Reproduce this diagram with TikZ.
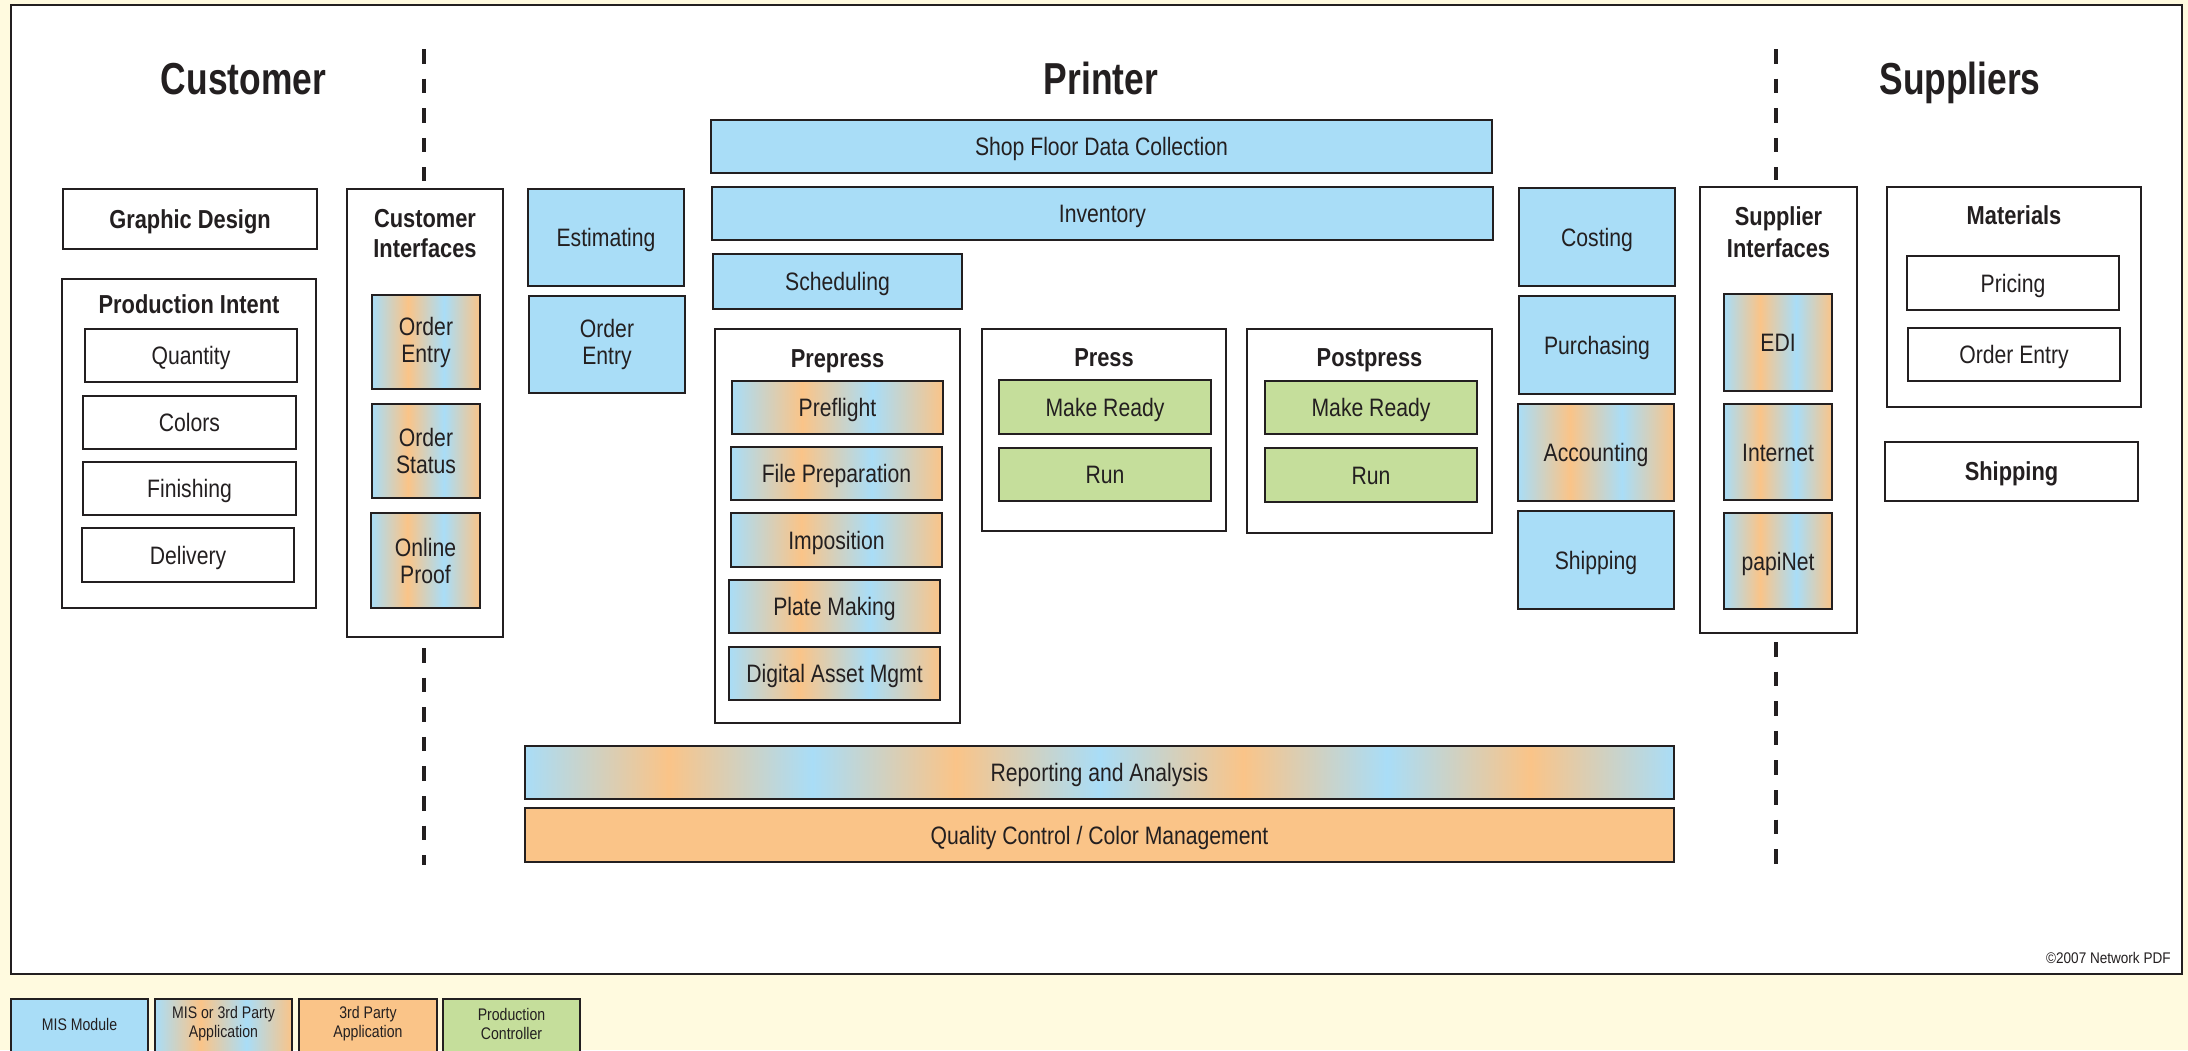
\documentclass[tikz,border=0pt]{standalone}
\usepackage{fontspec}
\setmainfont{Liberation Sans}[FakeStretch=0.84]
\newfontfamily\titlefamily{Liberation Sans}[FakeStretch=0.79]
\newfontfamily\notefamily{Liberation Sans}[FakeStretch=0.88]

\definecolor{ink}{HTML}{231F20}
\definecolor{cream}{HTML}{FFFADF}
\definecolor{misblue}{HTML}{A9DDF7}
\definecolor{thirdorange}{HTML}{FAC488}
\definecolor{prodgreen}{HTML}{C5DE9B}

% blue/orange stripes: the middle 50bp of the shading covers the box
\pgfdeclarehorizontalshading{mixfour}{100bp}{color(0bp)=(misblue); color(25bp)=(misblue);
  color(41.667bp)=(thirdorange); color(58.333bp)=(misblue); color(75bp)=(thirdorange);
  color(100bp)=(thirdorange)}
\pgfdeclarehorizontalshading{mixeight}{100bp}{color(0bp)=(misblue); color(25bp)=(misblue);
  color(31.25bp)=(thirdorange); color(37.5bp)=(misblue); color(43.75bp)=(thirdorange);
  color(50bp)=(misblue); color(56.25bp)=(thirdorange); color(62.5bp)=(misblue);
  color(68.75bp)=(thirdorange); color(75bp)=(misblue); color(100bp)=(misblue)}

\newcommand\labfont{\fontsize{12.6}{13.5}\selectfont}
\newcommand\headfont{\fontsize{13}{15}\selectfont\bfseries}
\newcommand\bigtitle{\titlefamily\fontsize{22.4}{26}\selectfont\bfseries}
\newcommand\keyfont{\fontsize{8.4}{9.5}\selectfont}
\newcommand\notesize{\notefamily\fontsize{7.7}{9}\selectfont}

% rectangle node from its corners: style, name, x1, y1, x2, y2, text
\newcommand\rbox[7]{%
  \pgfmathsetmacro\bw{(#5-#3)*0.5}\pgfmathsetmacro\bh{(#6-#4)*0.5}%
  \node[#1, minimum width=\bw pt, minimum height=\bh pt] (#2) at ({(#3+#5)/2},{(#4+#6)/2}) {#7};}

\begin{document}
\begin{tikzpicture}[x=0.5pt, y=-0.5pt,
  box/.style={draw=ink, line width=1.1pt, inner sep=0pt, text=ink, align=center, font=\labfont},
  capc/.style={text height=9pt, text depth=0pt},
  capb/.style={text height=9.3pt, text depth=0pt, font=\headfont},
  plain/.style={box, fill=white},
  mis/.style={box, fill=misblue},
  third/.style={box, fill=thirdorange},
  prod/.style={box, fill=prodgreen},
  mixed/.style={box, shade, shading=mixfour},
  mixedwide/.style={box, shade, shading=mixeight},
  head/.style={text=ink, font=\headfont, inner sep=0pt, anchor=base},
  bigtitle/.style={text=ink, font=\bigtitle, inner sep=0pt, anchor=base},
  keytext/.style={text=ink, font=\keyfont, align=center, inner sep=0pt},
  sep/.style={draw=ink, line width=2pt, dash pattern=on 7.3pt off 7.5pt}]

\useasboundingbox (0,0) rectangle (2188,1050);
\clip (0,0) rectangle (2188,1050);
\fill[cream] (0,0) rectangle (2188,1050);
\rbox{plain, line width=1.2pt}{page}{11}{5}{2182}{974}{}

% column titles
\node[bigtitle] (tcust) at (243.5,94.5) {Customer};
\node[bigtitle] (tprint) at (1101,94.5) {Printer};
\node[bigtitle] (tsupp) at (1960,94.5) {Suppliers};

% dashed separators
\coordinate (ldA) at (424,49);  \coordinate (ldB) at (424,181);
\coordinate (ldC) at (424,648); \coordinate (ldD) at (424,865);
\coordinate (rdA) at (1776,49); \coordinate (rdB) at (1776,180);
\coordinate (rdC) at (1776,642);\coordinate (rdD) at (1776,864);
\draw[sep] (ldA) -- (ldB);
\draw[sep] (ldC) -- (ldD);
\draw[sep] (rdA) -- (rdB);
\draw[sep] (rdC) -- (rdD);

% customer side
\rbox{plain, capb}{gd}{63}{189}{317}{249}{Graphic Design}
\rbox{plain}{pi}{62}{279}{316}{608}{}
\node[head] (piT) at (189,313) {Production Intent};
\rbox{plain, capc}{qty}{85}{329}{297}{382}{Quantity}
\rbox{plain, capc}{col}{83}{396}{296}{449}{Colors}
\rbox{plain, capc}{fin}{83}{462}{296}{515}{Finishing}
\rbox{plain, capc}{del}{82}{528}{294}{582}{Delivery}

\rbox{plain}{ci}{347}{189}{503}{637}{}
\node[head] (ciT) at (425,227) {Customer};
\node[head] (ciU) at (425,257) {Interfaces};
\rbox{mixed}{ciA}{372}{295}{480}{389}{Order\\Entry}
\rbox{mixed}{ciB}{372}{404}{480}{498}{Order\\Status}
\rbox{mixed}{ciC}{371}{513}{480}{608}{Online\\Proof}

% printer: MIS modules and shared services
\rbox{mis, capc}{est}{528}{189}{684}{286}{Estimating}
\rbox{mis}{poe}{529}{296}{685}{393}{Order\\Entry}
\rbox{mis, capc}{sfdc}{711}{120}{1492}{173}{Shop Floor Data Collection}
\rbox{mis, capc}{inv}{712}{187}{1493}{240}{Inventory}
\rbox{mis, capc}{sched}{713}{254}{962}{309}{Scheduling}

\rbox{plain}{pre}{715}{329}{960}{723}{}
\node[head] (preT) at (837.5,367) {Prepress};
\rbox{mixed, capc}{pf}{732}{381}{943}{434}{Preflight}
\rbox{mixed, capc}{fp}{731}{447}{942}{500}{File Preparation}
\rbox{mixed, capc}{imp}{731}{513}{942}{567}{Imposition}
\rbox{mixed, capc}{pm}{729}{580}{940}{633}{Plate Making}
\rbox{mixed, capc}{dam}{729}{647}{940}{700}{Digital Asset Mgmt}

\rbox{plain}{prs}{982}{329}{1226}{531}{}
\node[head] (prsT) at (1104,366) {Press};
\rbox{prod, capc}{prsA}{999}{380}{1211}{434}{Make Ready}
\rbox{prod, capc}{prsB}{999}{448}{1211}{501}{Run}

\rbox{plain}{post}{1247}{329}{1492}{533}{}
\node[head] (postT) at (1369.5,366) {Postpress};
\rbox{prod, capc}{postA}{1265}{381}{1477}{434}{Make Ready}
\rbox{prod, capc}{postB}{1265}{448}{1477}{502}{Run}

\rbox{mis, capc}{cost}{1519}{188}{1675}{286}{Costing}
\rbox{mis, capc}{purch}{1519}{296}{1675}{394}{Purchasing}
\rbox{mixed, capc}{acct}{1518}{404}{1674}{501}{Accounting}
\rbox{mis, capc}{pship}{1518}{511}{1674}{609}{Shipping}

\rbox{mixedwide, capc}{rep}{525}{746}{1674}{799}{Reporting and Analysis}
\rbox{third, capc}{qc}{525}{808}{1674}{862}{Quality Control / Color Management}

% supplier side
\rbox{plain}{si}{1700}{187}{1857}{633}{}
\node[head] (siT) at (1778.5,225) {Supplier};
\node[head] (siU) at (1778.5,257) {Interfaces};
\rbox{mixed, capc}{edi}{1724}{294}{1832}{391}{EDI}
\rbox{mixed, capc}{inet}{1724}{404}{1832}{500}{Internet}
\rbox{mixed, capc}{papi}{1724}{513}{1832}{609}{papiNet}

\rbox{plain}{mat}{1887}{187}{2141}{407}{}
\node[head] (matT) at (2014,224) {Materials};
\rbox{plain, capc}{price}{1907}{256}{2119}{310}{Pricing}
\rbox{plain, capc}{soe}{1908}{328}{2120}{381}{Order Entry}
\rbox{plain, capb}{sship}{1885}{442}{2138}{501}{Shipping}

\node[text=ink, font=\notesize, inner sep=0pt, anchor=base east] (copy) at (2171,963) {\textcopyright2007 Network PDF};

% key
\rbox{mis}{kA}{11}{999}{148}{1070}{}
\rbox{mixed}{kB}{155}{999}{292}{1070}{}
\rbox{third}{kC}{299}{999}{437}{1070}{}
\rbox{prod}{kD}{443}{999}{580}{1070}{}
\node[keytext] (kAt) at (79.5,1024) {MIS Module};
\node[keytext] (kBt) at (223.5,1024) {MIS or 3rd Party\\Application};
\node[keytext] (kCt) at (368,1024) {3rd Party\\Application};
\node[keytext] (kDt) at (511.5,1024) {Production\\Controller};
\end{tikzpicture}
\end{document}
